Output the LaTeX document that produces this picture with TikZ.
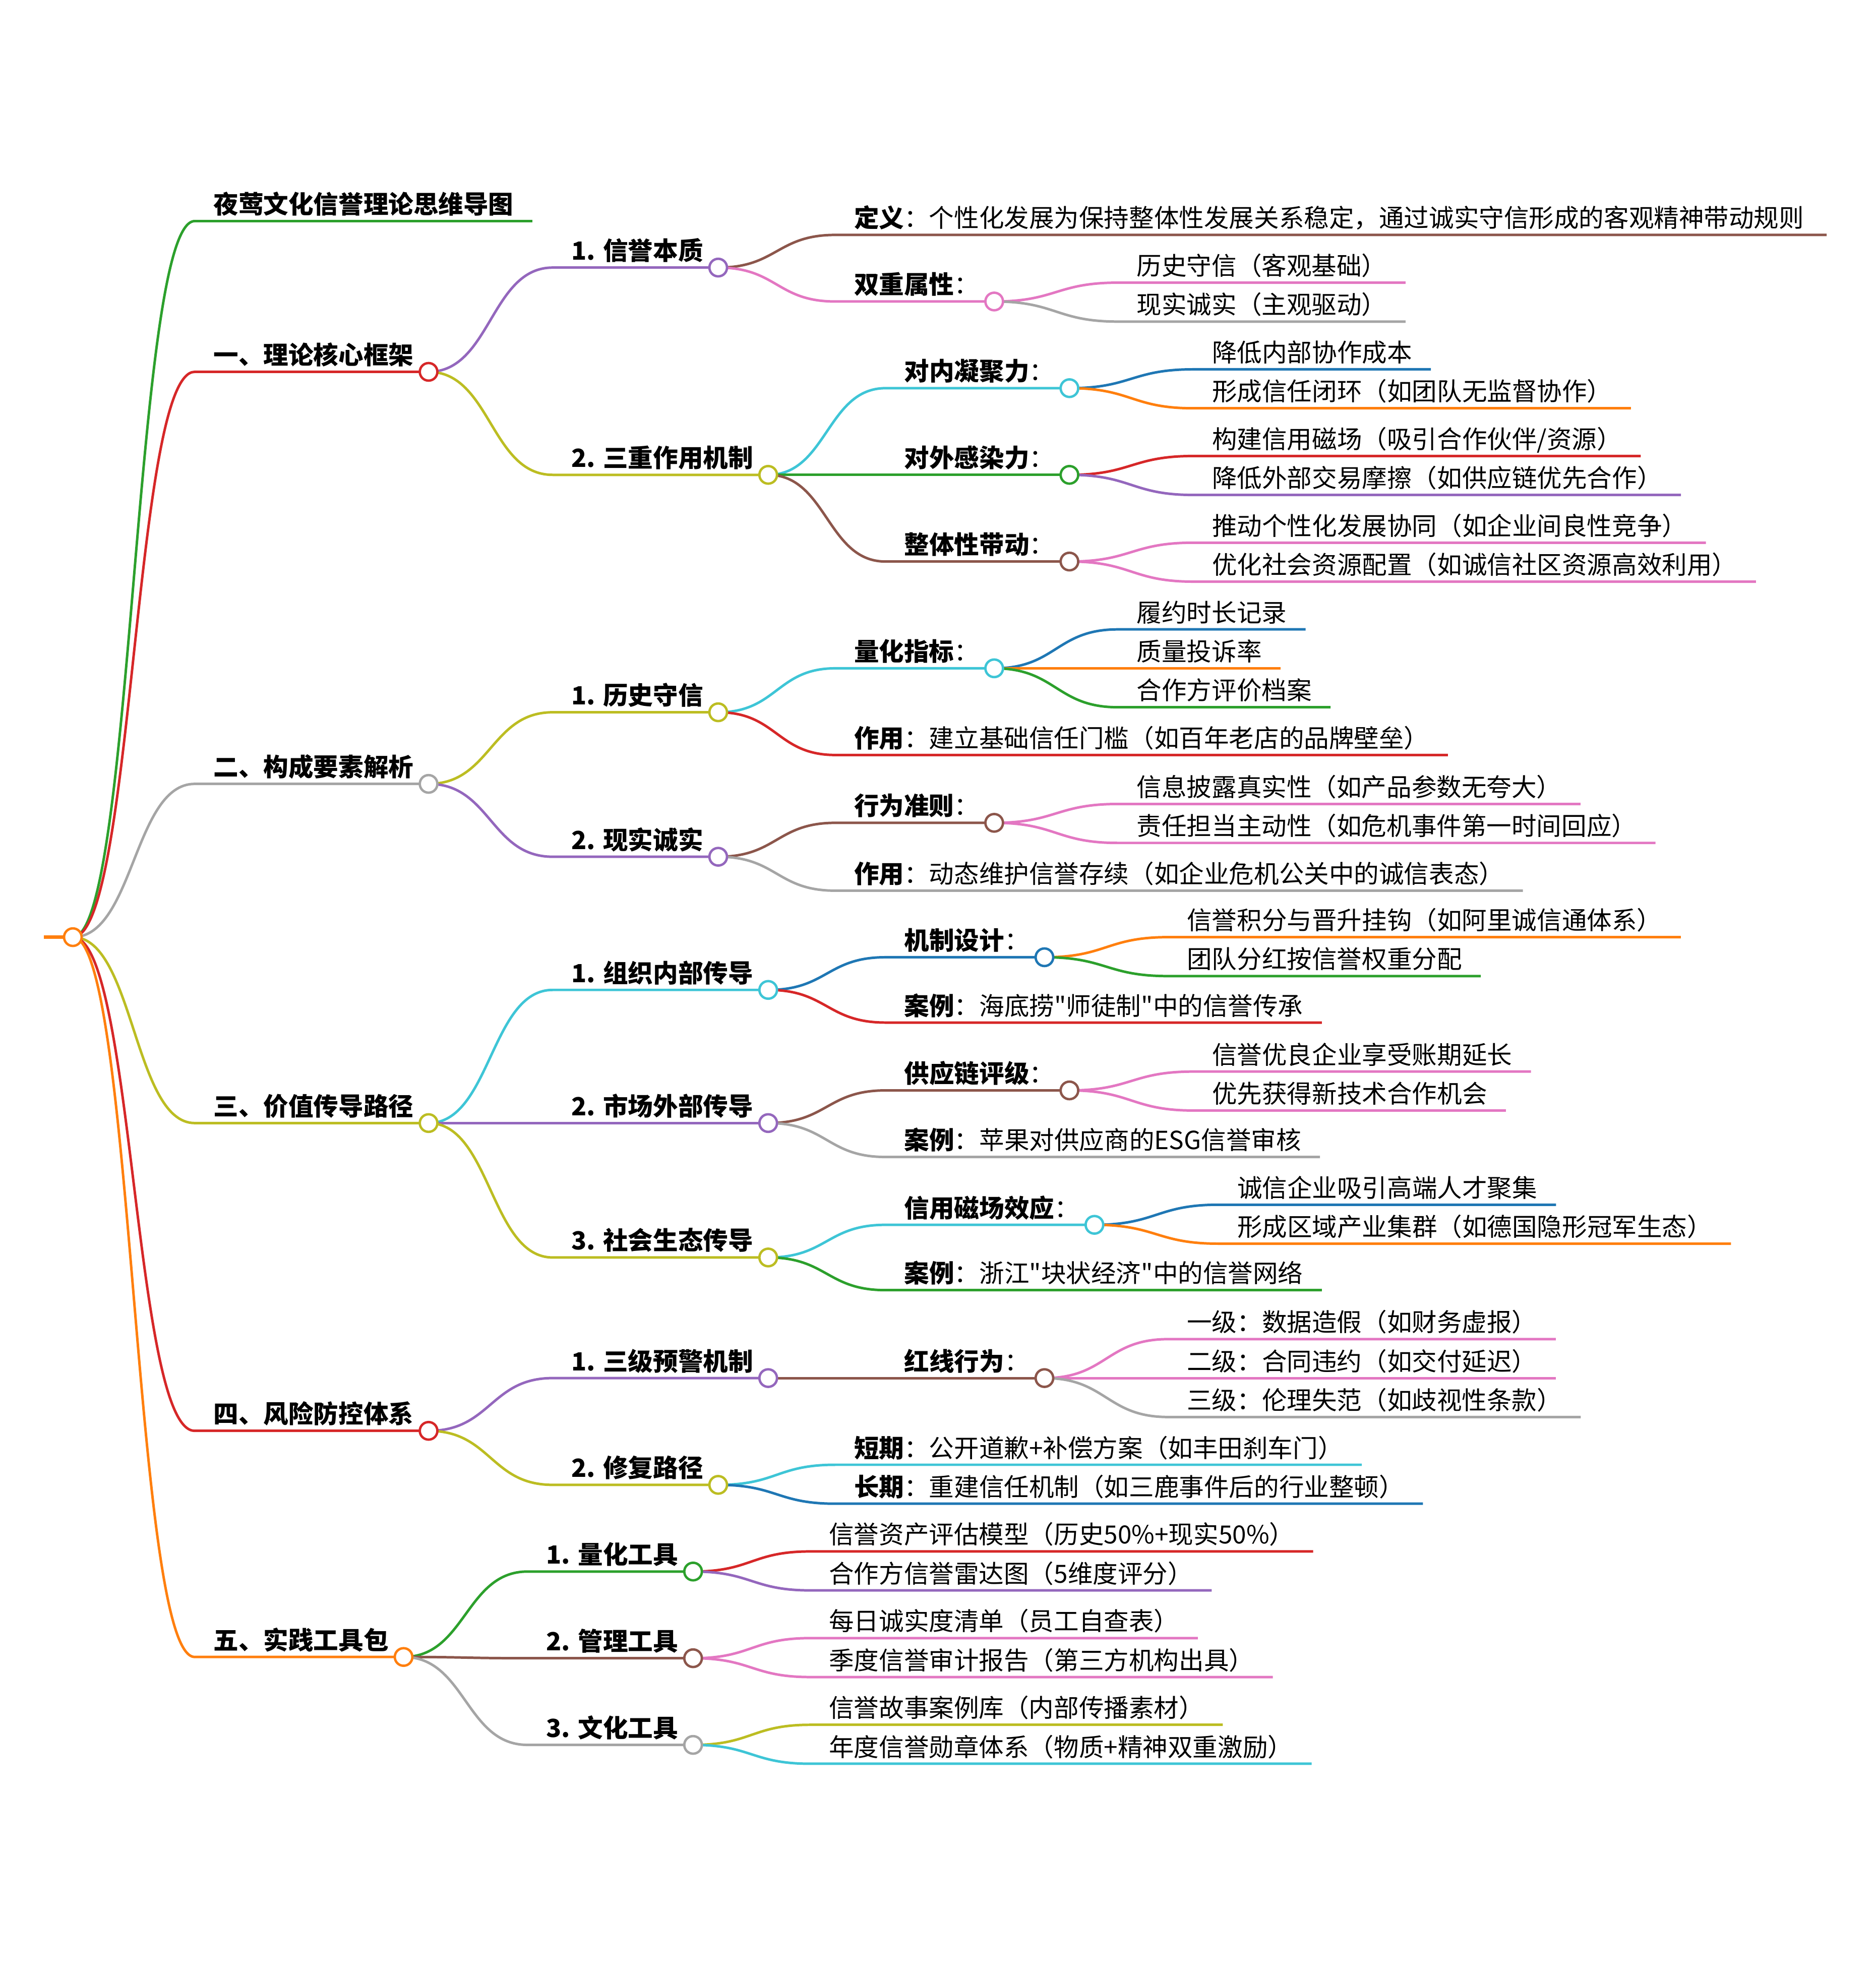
\documentclass[tikz,border=0pt]{standalone}
\usepackage{fontspec}
\newfontfamily\mmfont{Noto Sans CJK SC}
\usetikzlibrary{calc}
\pgfdeclarelayer{fg}
\pgfsetlayers{main,fg}
\definecolor{cblue}{HTML}{1F77B4}
\definecolor{corange}{HTML}{FF7F0E}
\definecolor{cgreen}{HTML}{2CA02C}
\definecolor{cred}{HTML}{D62728}
\definecolor{cpurple}{HTML}{9467BD}
\definecolor{cbrown}{HTML}{8C564B}
\definecolor{cpink}{HTML}{E377C2}
\definecolor{cgray}{HTML}{A5A5A5}
\definecolor{colive}{HTML}{BCBD22}
\definecolor{ccyan}{HTML}{3EC5D6}
\newcommand\mm[7]{%
  \coordinate (#1s) at (#4,#5);
  \node[lbl] (#1) at ($(#1s)+(15,-6)$) {#6};
  \coordinate (#1e) at ($(#1.base east)+(#7,6)$);
  \draw[ln,#2] let \p1=(#3), \p2=(#1s) in (\p1) .. controls ({(\x1+\x2)/2},\y1) and ({(\x1+\x2)/2},\y2) .. (\p2) -- (#1e);
}
\newcommand\mmdot[2]{\begin{pgfonlayer}{fg}\node[dot=#2] (#1c) at (#1e) {};\end{pgfonlayer}}
\begin{document}
\begin{tikzpicture}[x=0.5pt,y=-0.5pt,
  lbl/.style={anchor=base west, inner sep=0pt, outer sep=0pt, text=black, font=\mmfont\fontsize{9.95pt}{12pt}\selectfont},
  ln/.style={line width=1pt},
  dot/.style={circle, draw=#1, fill=white, line width=0.95pt, minimum size=7pt, inner sep=0pt, outer sep=0pt}]
\useasboundingbox (0,-1) rectangle (1493.3,1568);
% root
\coordinate (rs) at (35,745);
\coordinate (re) at (58,745);
\draw[corange, line width=1.3pt] (rs) -- (re);
\mmdot{r}{corange}
% title
\mm{t}{cgreen}{re}{155}{175}{\textbf{夜莺文化信誉理论思维导图}}{15}
% ---------- 一
\mm{A}{cred}{re}{155}{295}{\textbf{一、理论核心框架}}{12}\mmdot{A}{cred}
\mm{Aa}{cpurple}{Ae}{440}{212}{\textbf{1. 信誉本质}}{12}\mmdot{Aa}{cpurple}
\mm{Aaa}{cbrown}{Aae}{665}{186}{\textbf{定义}：个性化发展为保持整体性发展关系稳定，通过诚实守信形成的客观精神带动规则}{18}
\mm{Aab}{cpink}{Aae}{665}{239}{\textbf{双重属性}：}{12}\mmdot{Aab}{cpink}
\mm{Aaba}{cpink}{Aabe}{890}{224}{历史守信（客观基础）}{15}
\mm{Aabb}{cgray}{Aabe}{890}{255}{现实诚实（主观驱动）}{15}
\mm{Ab}{colive}{Ae}{440}{377}{\textbf{2. 三重作用机制}}{12}\mmdot{Ab}{colive}
\mm{Aba}{ccyan}{Abe}{705}{308}{\textbf{对内凝聚力}：}{12}\mmdot{Aba}{ccyan}
\mm{Abaa}{cblue}{Abae}{950}{293}{降低内部协作成本}{15}
\mm{Abab}{corange}{Abae}{950}{324}{形成信任闭环（如团队无监督协作）}{15}
\mm{Abb}{cgreen}{Abe}{705}{377}{\textbf{对外感染力}：}{12}\mmdot{Abb}{cgreen}
\mm{Abba}{cred}{Abbe}{950}{362}{构建信用磁场（吸引合作伙伴/资源）}{15}
\mm{Abbb}{cpurple}{Abbe}{950}{393}{降低外部交易摩擦（如供应链优先合作）}{15}
\mm{Abc}{cbrown}{Abe}{705}{446}{\textbf{整体性带动}：}{12}\mmdot{Abc}{cbrown}
\mm{Abca}{cpink}{Abce}{950}{431}{推动个性化发展协同（如企业间良性竞争）}{15}
\mm{Abcb}{cpink}{Abce}{950}{462}{优化社会资源配置（如诚信社区资源高效利用）}{15}
% ---------- 二
\mm{B}{cgray}{re}{155}{623}{\textbf{二、构成要素解析}}{12}\mmdot{B}{cgray}
\mm{Ba}{colive}{Be}{440}{566}{\textbf{1. 历史守信}}{12}\mmdot{Ba}{colive}
\mm{Baa}{ccyan}{Bae}{665}{531}{\textbf{量化指标}：}{12}\mmdot{Baa}{ccyan}
\mm{Baaa}{cblue}{Baae}{890}{500}{履约时长记录}{15}
\mm{Baab}{corange}{Baae}{890}{531}{质量投诉率}{15}
\mm{Baac}{cgreen}{Baae}{890}{562}{合作方评价档案}{15}
\mm{Bab}{cred}{Bae}{665}{600}{\textbf{作用}：建立基础信任门槛（如百年老店的品牌壁垒）}{15}
\mm{Bb}{cpurple}{Be}{440}{681}{\textbf{2. 现实诚实}}{12}\mmdot{Bb}{cpurple}
\mm{Bba}{cbrown}{Bbe}{665}{654}{\textbf{行为准则}：}{12}\mmdot{Bba}{cbrown}
\mm{Bbaa}{cpink}{Bbae}{890}{639}{信息披露真实性（如产品参数无夸大）}{15}
\mm{Bbab}{cpink}{Bbae}{890}{670}{责任担当主动性（如危机事件第一时间回应）}{15}
\mm{Bbb}{cgray}{Bbe}{665}{708}{\textbf{作用}：动态维护信誉存续（如企业危机公关中的诚信表态）}{15}
% ---------- 三
\mm{C}{colive}{re}{155}{893}{\textbf{三、价值传导路径}}{12}\mmdot{C}{colive}
\mm{Ca}{ccyan}{Ce}{440}{787}{\textbf{1. 组织内部传导}}{12}\mmdot{Ca}{ccyan}
\mm{Caa}{cblue}{Cae}{705}{761}{\textbf{机制设计}：}{12}\mmdot{Caa}{cblue}
\mm{Caaa}{corange}{Caae}{930}{745}{信誉积分与晋升挂钩（如阿里诚信通体系）}{15}
\mm{Caab}{cgreen}{Caae}{930}{776}{团队分红按信誉权重分配}{15}
\mm{Cab}{cred}{Cae}{705}{813}{\textbf{案例}：海底捞"师徒制"中的信誉传承}{15}
\mm{Cb}{cpurple}{Ce}{440}{893}{\textbf{2. 市场外部传导}}{12}\mmdot{Cb}{cpurple}
\mm{Cba}{cbrown}{Cbe}{705}{867}{\textbf{供应链评级}：}{12}\mmdot{Cba}{cbrown}
\mm{Cbaa}{cpink}{Cbae}{950}{852}{信誉优良企业享受账期延长}{15}
\mm{Cbab}{cpink}{Cbae}{950}{883}{优先获得新技术合作机会}{15}
\mm{Cbb}{cgray}{Cbe}{705}{920}{\textbf{案例}：苹果对供应商的ESG信誉审核}{15}
\mm{Cc}{colive}{Ce}{440}{1000}{\textbf{3. 社会生态传导}}{12}\mmdot{Cc}{colive}
\mm{Cca}{ccyan}{Cce}{705}{974}{\textbf{信用磁场效应}：}{12}\mmdot{Cca}{ccyan}
\mm{Ccaa}{cblue}{Ccae}{970}{958}{诚信企业吸引高端人才聚集}{15}
\mm{Ccab}{corange}{Ccae}{970}{989}{形成区域产业集群（如德国隐形冠军生态）}{15}
\mm{Ccb}{cgreen}{Cce}{705}{1026}{\textbf{案例}：浙江"块状经济"中的信誉网络}{15}
% ---------- 四
\mm{D}{cred}{re}{155}{1138}{\textbf{四、风险防控体系}}{12}\mmdot{D}{cred}
\mm{Da}{cpurple}{De}{440}{1096}{\textbf{1. 三级预警机制}}{12}\mmdot{Da}{cpurple}
\mm{Daa}{cbrown}{Dae}{705}{1096}{\textbf{红线行为}：}{12}\mmdot{Daa}{cbrown}
\mm{Daaa}{cpink}{Daae}{930}{1065}{一级：数据造假（如财务虚报）}{15}
\mm{Daab}{cpink}{Daae}{930}{1096}{二级：合同违约（如交付延迟）}{15}
\mm{Daac}{cgray}{Daae}{930}{1127}{三级：伦理失范（如歧视性条款）}{15}
\mm{Db}{colive}{De}{440}{1181}{\textbf{2. 修复路径}}{12}\mmdot{Db}{colive}
\mm{Dba}{ccyan}{Dbe}{665}{1165}{\textbf{短期}：公开道歉+补偿方案（如丰田刹车门）}{15}
\mm{Dbb}{cblue}{Dbe}{665}{1196}{\textbf{长期}：重建信任机制（如三鹿事件后的行业整顿）}{15}
% ---------- 五
\mm{E}{corange}{re}{155}{1318}{\textbf{五、实践工具包}}{12}\mmdot{E}{corange}
\mm{Ea}{cgreen}{Ee}{420}{1250}{\textbf{1. 量化工具}}{12}\mmdot{Ea}{cgreen}
\mm{Eaa}{cred}{Eae}{645}{1234}{信誉资产评估模型（历史50\%+现实50\%）}{15}
\mm{Eab}{cpurple}{Eae}{645}{1265}{合作方信誉雷达图（5维度评分）}{15}
\mm{Eb}{cbrown}{Ee}{420}{1319}{\textbf{2. 管理工具}}{12}\mmdot{Eb}{cbrown}
\mm{Eba}{cpink}{Ebe}{645}{1303}{每日诚实度清单（员工自查表）}{15}
\mm{Ebb}{cpink}{Ebe}{645}{1334}{季度信誉审计报告（第三方机构出具）}{15}
\mm{Ec}{cgray}{Ee}{420}{1388}{\textbf{3. 文化工具}}{12}\mmdot{Ec}{cgray}
\mm{Eca}{colive}{Ece}{645}{1372}{信誉故事案例库（内部传播素材）}{15}
\mm{Ecb}{ccyan}{Ece}{645}{1403}{年度信誉勋章体系（物质+精神双重激励）}{15}
\end{tikzpicture}
\end{document}
